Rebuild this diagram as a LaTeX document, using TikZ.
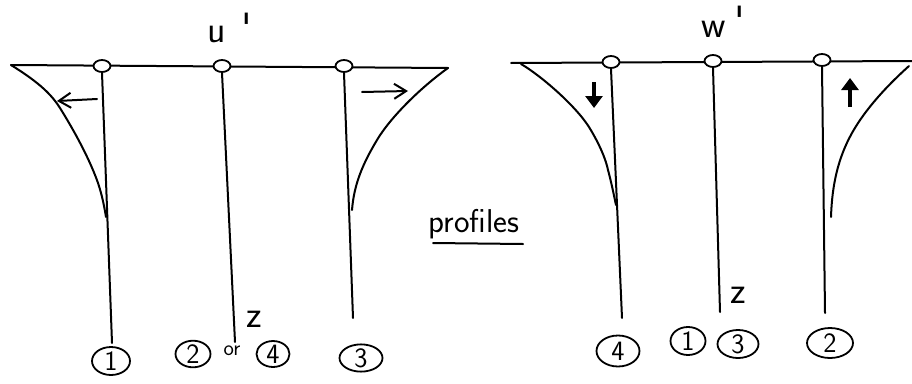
\documentclass[tikz,border=0pt]{standalone}
\usetikzlibrary{arrows.meta,shapes.geometric}
\begin{document}
\begin{tikzpicture}[x=1pt,y=-1pt,
  pen/.style={line width=2pt, line cap=round, black},
  knot/.style={draw, line width=1.8pt, ellipse, minimum width=17pt, minimum height=12pt, inner sep=0pt, fill=white},
  cnum/.style={draw, line width=1.8pt, ellipse, inner sep=0pt, font=\sffamily\fontsize{28}{28}\selectfont},
  lbl/.style={font=\sffamily\fontsize{38}{38}\selectfont, inner sep=0pt},
  primelbl/.style={font=\sffamily\fontsize{40}{40}\selectfont, inner sep=0pt},
  thinarrow/.style={pen, -{Straight Barb[length=12pt,width=15pt,line width=2pt]}},
  boldarrow/.style={line width=3.2pt, -{Triangle[length=12pt,width=17pt]}}
]
\useasboundingbox (0,0) rectangle (912,383);
\fill[white] (0,0) rectangle (912,383);

% ---------- left panel (u') ----------
\coordinate (La) at (11,65);
\coordinate (Lb) at (448,68);
\draw[pen] (La) -- (Lb);
\node[knot] (k1) at (102,66) {};
\node[knot] (k2) at (222,66) {};
\node[knot] (k3) at (344,66) {};
\node[cnum, minimum width=38pt, minimum height=28pt] (c1) at (111,361) {1};
\node[cnum, minimum width=35pt, minimum height=25pt] (c2) at (193,354) {2};
\node[font=\sffamily\fontsize{22}{22}\selectfont, inner sep=0pt] (or) at (232,351) {or};
\node[cnum, minimum width=33pt, minimum height=25pt] (c4) at (273,354) {4};
\node[cnum, minimum width=43pt, minimum height=27pt] (c3) at (361,358) {3};
\coordinate (e1) at (112,343);
\coordinate (e2) at (235,342);
\coordinate (e3) at (353,318);
\draw[pen] (k1.south) -- (e1);
\draw[pen] (k2.south) -- (e2);
\draw[pen] (k3.south) -- (e3);
\coordinate (p1) at (106,217);
\draw[pen] (La) .. controls (35,80) and (50,92) .. (60,108) .. controls (75,132) and (90,160) .. (98,183) .. controls (102,195) and (104,205) .. (p1);
\coordinate (p3) at (352,210);
\draw[pen] (Lb) .. controls (420,88) and (390,118) .. (377,140) .. controls (362,165) and (354,185) .. (p3);
\coordinate (a1s) at (97,99);
\coordinate (a1e) at (57,101);
\draw[thinarrow] (a1s) -- (a1e);
\coordinate (a3s) at (362,92);
\coordinate (a3e) at (408,91);
\draw[thinarrow] (a3s) -- (a3e);
\node[lbl, anchor=base] (u) at (217,42) {u};
\node[primelbl] (up) at (247,27) {\textquotesingle};
\node[lbl] (zL) at (254,319) {z};

% ---------- middle label ----------
\node[font=\sffamily\fontsize{33}{33}\selectfont, inner sep=0pt, anchor=base] (prof) at (474,232) {profiles};
\coordinate (ul1) at (433,243);
\coordinate (ul2) at (523,244);
\draw[pen] (ul1) -- (ul2);

% ---------- right panel (w') ----------
\coordinate (Ra) at (511,63);
\coordinate (Rb) at (912,61);
\draw[pen] (Ra) -- (Rb);
\node[knot] (m4) at (611,62) {};
\node[knot] (m2) at (713,61) {};
\node[knot] (m3) at (822,60) {};
\node[cnum, minimum width=43pt, minimum height=31pt] (d4) at (618,351) {4};
\node[cnum, minimum width=35pt, minimum height=28pt] (d1) at (688,341) {1};
\node[cnum, minimum width=41pt, minimum height=28pt] (d3) at (738,344) {3};
\node[cnum, minimum width=46pt, minimum height=30pt] (d2) at (830,343) {2};
\coordinate (f4) at (622,318);
\coordinate (f2) at (720,312);
\coordinate (f3) at (825,313);
\draw[pen] (m4.south) -- (f4);
\draw[pen] (m2.south) -- (f2);
\draw[pen] (m3.south) -- (f3);
\coordinate (q0) at (521,64);
\coordinate (q1) at (616,205);
\draw[pen] (q0) .. controls (540,75) and (575,105) .. (589,127) .. controls (600,145) and (606,160) .. (608,170) .. controls (612,185) and (614,196) .. (q1);
\coordinate (q3) at (909,66);
\coordinate (q2) at (831,217);
\draw[pen] (q3) .. controls (880,92) and (862,115) .. (852,133) .. controls (838,158) and (832,185) .. (q2);
\coordinate (b1s) at (594,82);
\coordinate (b1e) at (594,108);
\draw[boldarrow] (b1s) -- (b1e);
\coordinate (b2s) at (850,107);
\coordinate (b2e) at (850,78);
\draw[boldarrow] (b2s) -- (b2e);
\node[lbl, anchor=base] (w) at (714,37) {w};
\node[primelbl] (wp) at (740,20) {\textquotesingle};
\node[lbl] (zR) at (738,295) {z};
\end{tikzpicture}
\end{document}
